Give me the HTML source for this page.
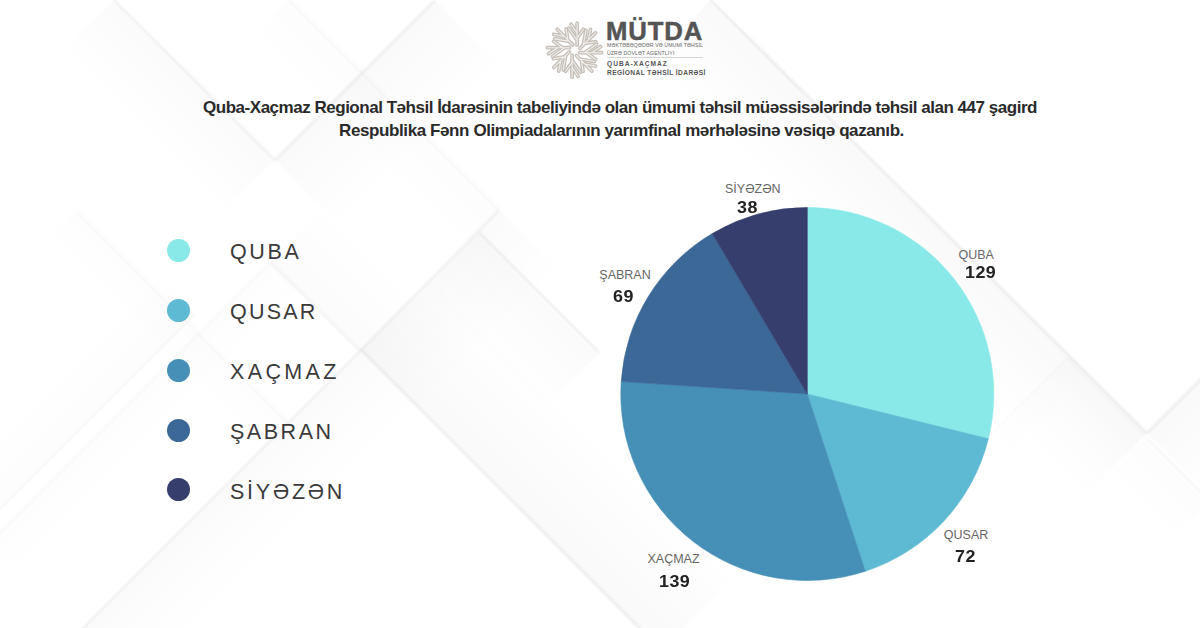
<!DOCTYPE html>
<html><head><meta charset="utf-8">
<style>
html,body{margin:0;padding:0;}
body{width:1200px;height:628px;overflow:hidden;position:relative;background:#fff;font-family:"Liberation Sans",sans-serif;}
#bg{position:absolute;left:0;top:0;}
.abs{position:absolute;white-space:nowrap;}
.title{position:absolute;left:0;width:1240px;text-align:center;font-weight:bold;font-size:17px;line-height:20px;color:#2a2a2a;}
.dot{position:absolute;width:23px;height:23px;border-radius:50%;}
.leg{position:absolute;left:230px;font-size:21.5px;line-height:24px;color:#3a3a3a;letter-spacing:3.2px;}
.pl{position:absolute;font-size:12.5px;line-height:14px;color:#666;letter-spacing:0px;}
.pv{position:absolute;font-size:16.3px;line-height:18px;font-weight:bold;color:#222;letter-spacing:0.4px;transform:scaleX(1.1);transform-origin:0 0;}
</style></head>
<body>
<svg id="bg" width="1200" height="628" viewBox="0 0 1200 628"><defs><linearGradient id="g0" gradientUnits="userSpaceOnUse" x1="114" y1="0" x2="57.4" y2="56.6"><stop offset="0" stop-color="#000" stop-opacity="0.0175"/><stop offset="1" stop-color="#000" stop-opacity="0"/></linearGradient><linearGradient id="g1" gradientUnits="userSpaceOnUse" x1="435" y1="0" x2="505.7" y2="70.7"><stop offset="0" stop-color="#000" stop-opacity="0.02"/><stop offset="1" stop-color="#000" stop-opacity="0"/></linearGradient><linearGradient id="g2" gradientUnits="userSpaceOnUse" x1="361" y1="350" x2="438.8" y2="272.2"><stop offset="0" stop-color="#000" stop-opacity="0.0225"/><stop offset="1" stop-color="#000" stop-opacity="0"/></linearGradient><linearGradient id="g3" gradientUnits="userSpaceOnUse" x1="360" y1="351" x2="416.6" y2="407.6"><stop offset="0" stop-color="#000" stop-opacity="0.0175"/><stop offset="1" stop-color="#000" stop-opacity="0"/></linearGradient><linearGradient id="g4" gradientUnits="userSpaceOnUse" x1="195" y1="314" x2="152.6" y2="271.6"><stop offset="0" stop-color="#000" stop-opacity="0.01"/><stop offset="1" stop-color="#000" stop-opacity="0"/></linearGradient><linearGradient id="g5" gradientUnits="userSpaceOnUse" x1="711" y1="0" x2="647.4" y2="63.6"><stop offset="0" stop-color="#000" stop-opacity="0.0225"/><stop offset="1" stop-color="#000" stop-opacity="0"/></linearGradient><linearGradient id="g6" gradientUnits="userSpaceOnUse" x1="1147" y1="433" x2="1210.6" y2="496.6"><stop offset="0" stop-color="#000" stop-opacity="0.0225"/><stop offset="1" stop-color="#000" stop-opacity="0"/></linearGradient><linearGradient id="g7" gradientUnits="userSpaceOnUse" x1="1147" y1="438" x2="1104.6" y2="480.4"><stop offset="0" stop-color="#000" stop-opacity="0.01"/><stop offset="1" stop-color="#000" stop-opacity="0"/></linearGradient><linearGradient id="g8" gradientUnits="userSpaceOnUse" x1="994" y1="431" x2="1022.3" y2="459.3"><stop offset="0" stop-color="#000" stop-opacity="0.006"/><stop offset="1" stop-color="#000" stop-opacity="0"/></linearGradient><linearGradient id="g9" gradientUnits="userSpaceOnUse" x1="1067" y1="358" x2="1038.7" y2="386.3"><stop offset="0" stop-color="#000" stop-opacity="0.006"/><stop offset="1" stop-color="#000" stop-opacity="0"/></linearGradient><linearGradient id="g10" gradientUnits="userSpaceOnUse" x1="499" y1="210" x2="562.6" y2="273.6"><stop offset="0" stop-color="#000" stop-opacity="0.0175"/><stop offset="1" stop-color="#000" stop-opacity="0"/></linearGradient><linearGradient id="g11" gradientUnits="userSpaceOnUse" x1="479" y1="232" x2="415.4" y2="295.6"><stop offset="0" stop-color="#000" stop-opacity="0.0175"/><stop offset="1" stop-color="#000" stop-opacity="0"/></linearGradient><linearGradient id="g12" gradientUnits="userSpaceOnUse" x1="76" y1="211" x2="40.6" y2="246.4"><stop offset="0" stop-color="#000" stop-opacity="0.0075"/><stop offset="1" stop-color="#000" stop-opacity="0"/></linearGradient><linearGradient id="g13" gradientUnits="userSpaceOnUse" x1="270" y1="262" x2="326.6" y2="205.4"><stop offset="0" stop-color="#000" stop-opacity="0.015"/><stop offset="1" stop-color="#000" stop-opacity="0"/></linearGradient><linearGradient id="g14" gradientUnits="userSpaceOnUse" x1="270" y1="262" x2="305.4" y2="297.4"><stop offset="0" stop-color="#000" stop-opacity="0.0075"/><stop offset="1" stop-color="#000" stop-opacity="0"/></linearGradient><linearGradient id="g15" gradientUnits="userSpaceOnUse" x1="289" y1="0" x2="246.6" y2="42.4"><stop offset="0" stop-color="#000" stop-opacity="0.01"/><stop offset="1" stop-color="#000" stop-opacity="0"/></linearGradient><filter id="bl" x="-5%" y="-5%" width="110%" height="110%"><feGaussianBlur stdDeviation="0.9"/></filter></defs><polygon fill="url(#g0)" points="114.0,0.0 275.0,160.0 218.4,216.6 57.4,56.6"/><polygon fill="url(#g1)" points="435.0,0.0 275.0,160.0 345.7,230.7 505.7,70.7"/><polygon fill="url(#g2)" points="361.0,350.0 661.0,650.0 738.8,572.2 438.8,272.2"/><polygon fill="url(#g3)" points="360.0,351.0 60.0,651.0 116.6,707.6 416.6,407.6"/><polygon fill="url(#g4)" points="195.0,314.0 -10.0,519.0 -52.4,476.6 152.6,271.6"/><polygon fill="url(#g5)" points="711.0,0.0 1147.0,433.0 1083.4,496.6 647.4,63.6"/><polygon fill="url(#g6)" points="1147.0,433.0 1240.0,340.0 1303.6,403.6 1210.6,496.6"/><polygon fill="url(#g7)" points="1147.0,438.0 1210.0,501.0 1167.6,543.4 1104.6,480.4"/><polygon fill="url(#g8)" points="994.0,431.0 1067.0,358.0 1095.3,386.3 1022.3,459.3"/><polygon fill="url(#g9)" points="1067.0,358.0 1147.0,438.0 1118.7,466.3 1038.7,386.3"/><polygon fill="url(#g10)" points="499.0,210.0 360.0,351.0 423.6,414.6 562.6,273.6"/><polygon fill="url(#g11)" points="479.0,232.0 600.0,353.0 536.4,416.6 415.4,295.6"/><polygon fill="url(#g12)" points="76.0,211.0 290.0,425.0 254.6,460.4 40.6,246.4"/><polygon fill="url(#g13)" points="270.0,262.0 360.0,351.0 416.6,294.4 326.6,205.4"/><polygon fill="url(#g14)" points="270.0,262.0 -10.0,542.0 25.4,577.4 305.4,297.4"/><polygon fill="url(#g15)" points="289.0,0.0 499.0,210.0 456.6,252.4 246.6,42.4"/><g filter="url(#bl)"><line x1="114" y1="0" x2="275" y2="160" stroke="#000" stroke-opacity="0.056" stroke-width="2.2"/><line x1="435" y1="0" x2="275" y2="160" stroke="#000" stroke-opacity="0.064" stroke-width="2.2"/><line x1="361" y1="350" x2="661" y2="650" stroke="#000" stroke-opacity="0.072" stroke-width="2.2"/><line x1="360" y1="351" x2="60" y2="651" stroke="#000" stroke-opacity="0.056" stroke-width="2.2"/><line x1="195" y1="314" x2="-10" y2="519" stroke="#000" stroke-opacity="0.032" stroke-width="2.2"/><line x1="711" y1="0" x2="1147" y2="433" stroke="#000" stroke-opacity="0.072" stroke-width="2.2"/><line x1="1147" y1="433" x2="1240" y2="340" stroke="#000" stroke-opacity="0.072" stroke-width="2.2"/><line x1="1147" y1="438" x2="1210" y2="501" stroke="#000" stroke-opacity="0.032" stroke-width="2.2"/><line x1="994" y1="431" x2="1067" y2="358" stroke="#000" stroke-opacity="0.019" stroke-width="2.2"/><line x1="1067" y1="358" x2="1147" y2="438" stroke="#000" stroke-opacity="0.019" stroke-width="2.2"/><line x1="499" y1="210" x2="360" y2="351" stroke="#000" stroke-opacity="0.056" stroke-width="2.2"/><line x1="479" y1="232" x2="600" y2="353" stroke="#000" stroke-opacity="0.056" stroke-width="2.2"/><line x1="76" y1="211" x2="290" y2="425" stroke="#000" stroke-opacity="0.024" stroke-width="2.2"/><line x1="270" y1="262" x2="360" y2="351" stroke="#000" stroke-opacity="0.048" stroke-width="2.2"/><line x1="270" y1="262" x2="-10" y2="542" stroke="#000" stroke-opacity="0.024" stroke-width="2.2"/><line x1="289" y1="0" x2="499" y2="210" stroke="#000" stroke-opacity="0.032" stroke-width="2.2"/></g></svg>


<svg class="abs" style="left:540px;top:15px" width="68" height="68" viewBox="-34 -34 68 68">
<g transform="translate(0.6,1.2)">
<g stroke="#c6c0b9" stroke-width="3.8" fill="none" stroke-linejoin="round" stroke-linecap="round"><path transform="rotate(0)" d="M2.5 -5L2.5 -27M2.5 -10L-6 -22M2.5 -17L-3.5 -26M2.5 -12L9 -21"/><path transform="rotate(45)" d="M2.5 -5L2.5 -27M2.5 -10L-6 -22M2.5 -17L-3.5 -26M2.5 -12L9 -21"/><path transform="rotate(90)" d="M2.5 -5L2.5 -27M2.5 -10L-6 -22M2.5 -17L-3.5 -26M2.5 -12L9 -21"/><path transform="rotate(135)" d="M2.5 -5L2.5 -27M2.5 -10L-6 -22M2.5 -17L-3.5 -26M2.5 -12L9 -21"/><path transform="rotate(180)" d="M2.5 -5L2.5 -27M2.5 -10L-6 -22M2.5 -17L-3.5 -26M2.5 -12L9 -21"/><path transform="rotate(225)" d="M2.5 -5L2.5 -27M2.5 -10L-6 -22M2.5 -17L-3.5 -26M2.5 -12L9 -21"/><path transform="rotate(270)" d="M2.5 -5L2.5 -27M2.5 -10L-6 -22M2.5 -17L-3.5 -26M2.5 -12L9 -21"/><path transform="rotate(315)" d="M2.5 -5L2.5 -27M2.5 -10L-6 -22M2.5 -17L-3.5 -26M2.5 -12L9 -21"/></g>
<g stroke="#f1eeeb" stroke-width="1.1" fill="none" stroke-linejoin="round" stroke-linecap="round"><path transform="rotate(0)" d="M2.5 -5L2.5 -27M2.5 -10L-6 -22M2.5 -17L-3.5 -26M2.5 -12L9 -21"/><path transform="rotate(45)" d="M2.5 -5L2.5 -27M2.5 -10L-6 -22M2.5 -17L-3.5 -26M2.5 -12L9 -21"/><path transform="rotate(90)" d="M2.5 -5L2.5 -27M2.5 -10L-6 -22M2.5 -17L-3.5 -26M2.5 -12L9 -21"/><path transform="rotate(135)" d="M2.5 -5L2.5 -27M2.5 -10L-6 -22M2.5 -17L-3.5 -26M2.5 -12L9 -21"/><path transform="rotate(180)" d="M2.5 -5L2.5 -27M2.5 -10L-6 -22M2.5 -17L-3.5 -26M2.5 -12L9 -21"/><path transform="rotate(225)" d="M2.5 -5L2.5 -27M2.5 -10L-6 -22M2.5 -17L-3.5 -26M2.5 -12L9 -21"/><path transform="rotate(270)" d="M2.5 -5L2.5 -27M2.5 -10L-6 -22M2.5 -17L-3.5 -26M2.5 -12L9 -21"/><path transform="rotate(315)" d="M2.5 -5L2.5 -27M2.5 -10L-6 -22M2.5 -17L-3.5 -26M2.5 -12L9 -21"/></g>
</g>
</svg>
<div class="abs" style="left:606px;top:17px;font-size:25.7px;line-height:28px;font-weight:bold;color:#555;letter-spacing:0.9px;-webkit-text-stroke:0.5px #555">MÜTDA</div>
<div class="abs" style="left:607px;top:42px;font-size:5.2px;line-height:7px;color:#666;letter-spacing:0.1px">MƏKTƏBƏQƏDƏR VƏ ÜMUMİ TƏHSİL</div>
<div class="abs" style="left:607px;top:49.5px;font-size:5.2px;line-height:7px;color:#666;letter-spacing:0.1px">ÜZRƏ DÖVLƏT AGENTLİYİ</div>
<div class="abs" style="left:607px;top:57px;width:96px;height:1px;background:#d5d5d5"></div>
<div class="abs" style="left:607px;top:60px;font-size:6.6px;line-height:8px;font-weight:bold;color:#555;letter-spacing:1.0px">QUBA-XAÇMAZ</div>
<div class="abs" style="left:607px;top:68.5px;font-size:6.6px;line-height:8px;font-weight:bold;color:#555;letter-spacing:0.42px">REGİONAL TƏHSİL İDARƏSİ</div>

<div class="title" style="top:97.7px;letter-spacing:-0.48px">Quba-Xaçmaz Regional Təhsil İdarəsinin tabeliyində olan ümumi təhsil müəssisələrində təhsil alan 447 şagird</div>
<div class="title" style="top:120.7px;left:1.5px;letter-spacing:-0.40px">Respublika Fənn Olimpiadalarının yarımfinal mərhələsinə vəsiqə qazanıb.</div>

<div class="dot" style="left:167px;top:239px;background:#88E9E8"></div>
<div class="dot" style="left:167px;top:299px;background:#5EBAD3"></div>
<div class="dot" style="left:167px;top:359px;background:#4690B8"></div>
<div class="dot" style="left:167px;top:419px;background:#3C6898"></div>
<div class="dot" style="left:167px;top:478px;background:#363E6E"></div>

<div class="leg" style="top:239.5px;letter-spacing:2.63px">QUBA</div>
<div class="leg" style="top:299.5px;letter-spacing:2.2px">QUSAR</div>
<div class="leg" style="top:359.5px;letter-spacing:3.36px">XAÇMAZ</div>
<div class="leg" style="top:419.5px;letter-spacing:2.52px">ŞABRAN</div>
<div class="leg" style="top:479.5px;letter-spacing:2.77px">SİYƏZƏN</div>

<svg class="abs" style="left:0;top:0" width="1200" height="628">
<path fill="#88E9E8" stroke="#88E9E8" stroke-width="0.6" stroke-linejoin="round" d="M807.3 394L807.30 207.50A186.5 186.5 0 0 1 988.34 438.78Z"/>
<path fill="#5EBAD3" stroke="#5EBAD3" stroke-width="0.6" stroke-linejoin="round" d="M807.3 394L988.34 438.78A186.5 186.5 0 0 1 865.31 571.25Z"/>
<path fill="#4690B8" stroke="#4690B8" stroke-width="0.6" stroke-linejoin="round" d="M807.3 394L865.31 571.25A186.5 186.5 0 0 1 621.22 381.56Z"/>
<path fill="#3C6898" stroke="#3C6898" stroke-width="0.6" stroke-linejoin="round" d="M807.3 394L621.22 381.56A186.5 186.5 0 0 1 712.35 233.48Z"/>
<path fill="#363E6E" stroke="#363E6E" stroke-width="0.6" stroke-linejoin="round" d="M807.3 394L712.35 233.48A186.5 186.5 0 0 1 807.30 207.50Z"/>
</svg>

<div class="pl" style="left:725px;top:181.7px">SİYƏZƏN</div>
<div class="pv" style="left:737px;top:197.5px">38</div>
<div class="pl" style="left:958.5px;top:247.7px">QUBA</div>
<div class="pv" style="left:965px;top:262.5px">129</div>
<div class="pl" style="left:599.3px;top:267.7px">ŞABRAN</div>
<div class="pv" style="left:612.6px;top:286.7px">69</div>
<div class="pl" style="left:943.8px;top:527.7px">QUSAR</div>
<div class="pv" style="left:955px;top:547px">72</div>
<div class="pl" style="left:647.5px;top:552px">XAÇMAZ</div>
<div class="pv" style="left:659px;top:571.5px">139</div>

</body></html>
